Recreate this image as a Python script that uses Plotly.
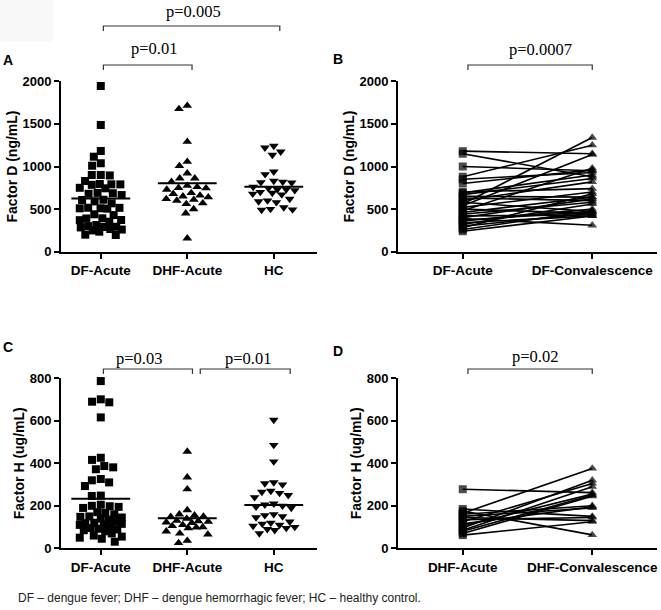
import plotly.graph_objects as go

# ---------------- DATA ----------------
a_categories = ["DF-Acute", "DHF-Acute", "HC"]
a_df_acute = [1945, 1487, 1182, 1115, 1038, 1009, 900, 900, 895, 830, 795, 791, 790, 785,
              750, 744, 690, 686, 680, 665, 610, 607, 590, 568, 516, 515, 510, 509, 505,
              439, 430, 392, 390, 372, 370, 352, 313, 300, 293, 290, 285, 266, 260, 250,
              235, 200, 196]
a_dhf_acute = [1714, 1675, 1291, 1057, 1006, 920, 862, 862, 820, 775, 760, 750, 745, 730,
               690, 680, 660, 650, 640, 620, 610, 600, 570, 560, 500, 450, 157]
a_hc = [1241, 1221, 1174, 1135, 939, 908, 830, 820, 815, 810, 760, 745, 730, 730, 720,
        700, 690, 680, 670, 620, 600, 590, 580, 520, 500, 495, 490]
a_means = [625, 803, 763]

b_categories = ["DF-Acute", "DF-Convalescence"]
b_acute = [1180, 1150, 1000, 880, 850, 800, 700, 690, 670, 650, 630, 600, 580, 560, 540,
           520, 500, 480, 460, 440, 420, 400, 390, 370, 360, 340, 320, 300, 280, 260, 240]
b_conv = [1150, 880, 950, 1250, 930, 960, 740, 900, 860, 640, 600, 820, 470, 1340, 1140,
          700, 450, 980, 640, 580, 430, 620, 310, 470, 500, 420, 560, 450, 680, 480, 420]

c_categories = ["DF-Acute", "DHF-Acute", "HC"]
c_df_acute = [787, 701, 690, 687, 616, 426, 416, 387, 381, 372, 326, 320, 310, 293, 248,
              246, 205, 200, 198, 195, 190, 170, 166, 160, 150, 148, 145, 140, 135, 125,
              120, 118, 115, 112, 110, 100, 95, 92, 89, 85, 80, 70, 60, 55, 50, 45, 31]
c_dhf_acute = [455, 334, 278, 180, 160, 155, 150, 148, 140, 130, 128, 125, 122, 120, 110,
               105, 100, 98, 95, 80, 70, 65, 36, 25]
c_hc = [604, 486, 408, 310, 305, 300, 270, 265, 260, 250, 240, 210, 205, 200, 195, 190,
        160, 155, 150, 145, 125, 120, 115, 110, 105, 100, 95, 90, 85, 70]
c_means = [233, 141, 204]

d_categories = ["DHF-Acute", "DHF-Convalescence"]
d_acute = [278, 185, 175, 165, 160, 150, 145, 135, 125, 115, 105, 95, 85, 80, 70, 62]
d_conv = [262, 150, 63, 376, 200, 190, 130, 145, 305, 195, 255, 320, 290, 250, 245, 125]

a_ticks = [0, 500, 1000, 1500, 2000]
c_ticks = [0, 200, 400, 600, 800]

footer = "DF \u2013 dengue fever; DHF \u2013 dengue hemorrhagic fever; HC \u2013 healthy control."

# ---------------- LAYOUT GEOMETRY ----------------
W, H = 661, 610
def px(x): return x / W
def py(y): return 1 - y / H

xdomL = [px(61), px(317)]
xdomR = [px(398), px(657)]
ydomT = [py(251.7), py(81.3)]
ydomB = [py(548.3), py(378.3)]
xrangeL = [-0.46, 2.5]
xrangeR = [-0.5, 1.5]

SANS = "Arial, Liberation Sans, Helvetica, sans-serif"
SERIF = "Times New Roman, Liberation Serif, serif"

pxx_L = (317 - 61) / (xrangeL[1] - xrangeL[0])
pyy_A = (251.7 - 81.3) / 2000
pyy_C = (548.3 - 378.3) / 800


def swarm(values, center, px_per_x, px_per_y, d=9.0, limit=21.0):
    """Beeswarm layout limited to +-limit px: each point is pushed sideways just
    enough not to overlap; when the column is full it goes to the least crowded spot."""
    order = sorted(range(len(values)), key=lambda i: -values[i])
    placed = []
    out = [float(center)] * len(values)
    grid = [g * 0.5 for g in range(int(-2 * limit), int(2 * limit) + 1)]
    for i in order:
        y = values[i] * px_per_y
        cands = [0.0]
        for xp, yp in placed:
            dy = abs(y - yp)
            if dy < d:
                dx = (d * d - dy * dy) ** 0.5
                cands += [xp + dx, xp - dx]
        cands = [c for c in cands if abs(c) <= limit]
        cands.sort(key=lambda c: (abs(c), c))
        chosen = None
        for c in cands:
            if all((c - xp) ** 2 + (y - yp) ** 2 >= d * d - 1e-6 for xp, yp in placed):
                chosen = c
                break
        if chosen is None:
            def mind(c):
                return min((c - xp) ** 2 + (y - yp) ** 2 for xp, yp in placed)
            chosen = max(grid, key=lambda c: (mind(c), -abs(c)))
        placed.append((chosen, y))
        out[i] = center + chosen / px_per_x
    return out


fig = go.Figure()


def dot_panel(groups, symbols, means, xa, ya, pyy):
    for k, (vals, sym) in enumerate(zip(groups, symbols)):
        xs = swarm(vals, k, pxx_L, pyy)
        fig.add_trace(go.Scatter(
            x=xs, y=vals, mode="markers", xaxis=xa, yaxis=ya,
            marker=dict(symbol=sym, size=8 if sym == "square" else 8.5, color="black",
                        line=dict(width=0)),
            showlegend=False, cliponaxis=False, hoverinfo="y"))
        fig.add_trace(go.Scatter(
            x=[k - 0.34, k + 0.34], y=[means[k], means[k]], mode="lines",
            xaxis=xa, yaxis=ya, line=dict(color="black", width=2),
            showlegend=False, hoverinfo="skip"))


dot_panel([a_df_acute, a_dhf_acute, a_hc], ["square", "triangle-up", "triangle-down"],
          a_means, "x", "y", pyy_A)
dot_panel([c_df_acute, c_dhf_acute, c_hc], ["square", "triangle-up", "triangle-down"],
          c_means, "x3", "y3", pyy_C)


def pair_panel(acute, conv, xa, ya):
    for a, c in zip(acute, conv):
        fig.add_trace(go.Scatter(
            x=[0, 1], y=[a, c], mode="lines+markers", xaxis=xa, yaxis=ya,
            line=dict(color="black", width=1.6),
            marker=dict(symbol=["square", "triangle-up"], size=[8, 8.5], color="black",
                        line=dict(width=0)),
            showlegend=False, cliponaxis=False, hoverinfo="y"))


pair_panel(b_acute, b_conv, "x2", "y2")
pair_panel(d_acute, d_conv, "x4", "y4")

axis_common = dict(showline=True, linecolor="black", linewidth=2, ticks="outside",
                   ticklen=5, tickwidth=2, tickcolor="black", showgrid=False,
                   zeroline=False, fixedrange=True, automargin=False,
                   tickfont=dict(family=SANS, size=13, color="black", weight="bold"))


def xaxis_cfg(dom, rng, cats, anchor):
    d = dict(axis_common)
    d.update(domain=dom, range=rng, tickmode="array", tickvals=list(range(len(cats))),
             ticktext=cats, anchor=anchor,
             tickfont=dict(family=SANS, size=13.5, color="black", weight="bold"))
    return d


def yaxis_cfg(dom, rng, ticks, title, anchor):
    d = dict(axis_common)
    d.update(domain=dom, range=rng, tickmode="array", tickvals=ticks, anchor=anchor,
             title=dict(text=title, font=dict(family=SANS, size=14, color="black",
                                              weight="bold"), standoff=2))
    return d


fig.update_layout(
    template="none",
    width=W, height=H, margin=dict(l=0, r=0, t=0, b=0, pad=0),
    paper_bgcolor="white", plot_bgcolor="white",
    xaxis=xaxis_cfg(xdomL, xrangeL, a_categories, "y"),
    yaxis=yaxis_cfg(ydomT, [0, 2000], a_ticks, "Factor D (ng/mL)", "x"),
    xaxis2=xaxis_cfg(xdomR, xrangeR, b_categories, "y2"),
    yaxis2=yaxis_cfg(ydomT, [0, 2000], a_ticks, "Factor D (ng/mL)", "x2"),
    xaxis3=xaxis_cfg(xdomL, xrangeL, c_categories, "y3"),
    yaxis3=yaxis_cfg(ydomB, [0, 800], c_ticks, "Factor H (ug/mL)", "x3"),
    xaxis4=xaxis_cfg(xdomR, xrangeR, d_categories, "y4"),
    yaxis4=yaxis_cfg(ydomB, [0, 800], c_ticks, "Factor H (ug/mL)", "x4"),
)

# faint grey box in the top-left corner of the original scan
fig.add_shape(type="rect", xref="paper", yref="paper", x0=0, x1=px(53), y0=py(42), y1=1,
              line=dict(width=0), fillcolor="#f8f8f8", layer="below")

# significance brackets (x in category units, y in pixels)
brackets = [
    ("x", 0.03, 2.07, 26, "p=0.005", 193, 12),
    ("x", 0.03, 1.055, 65, "p=0.01", 154, 48),
    ("x2", 0.04, 1.0, 65, "p=0.0007", 540, 49),
    ("x3", 0.03, 1.06, 369, "p=0.03", 139, 358),
    ("x3", 1.15, 2.19, 369, "p=0.01", 248, 358),
    ("x4", 0.04, 1.0, 369, "p=0.02", 535, 356),
]
for xa, x0, x1, yb, txt, tx, ty in brackets:
    fig.add_shape(type="path", xref=xa, yref="paper",
                  path=f"M {x0},{py(yb + 5)} L {x0},{py(yb)} L {x1},{py(yb)} L {x1},{py(yb + 5)}",
                  line=dict(color="#333333", width=1.2))
    fig.add_annotation(x=px(tx), y=py(ty), xref="paper", yref="paper", text=txt,
                       showarrow=False, xanchor="center", yanchor="middle",
                       font=dict(family=SERIF, size=16.5, color="black"))

for lab, lx, ly in [("A", 8, 60), ("B", 338, 59), ("C", 8, 347), ("D", 338, 351)]:
    fig.add_annotation(x=px(lx), y=py(ly), xref="paper", yref="paper", text=lab,
                       showarrow=False, xanchor="center", yanchor="middle",
                       font=dict(family=SANS, size=14, color="black", weight="bold"))

fig.add_annotation(x=px(16), y=py(598), xref="paper", yref="paper", text=footer,
                   showarrow=False, xanchor="left", yanchor="middle",
                   font=dict(family=SANS, size=12, color="#222222"))

fig.write_html("out.html", config={"displayModeBar": False},
               post_script="document.body.style.margin='0px';")
